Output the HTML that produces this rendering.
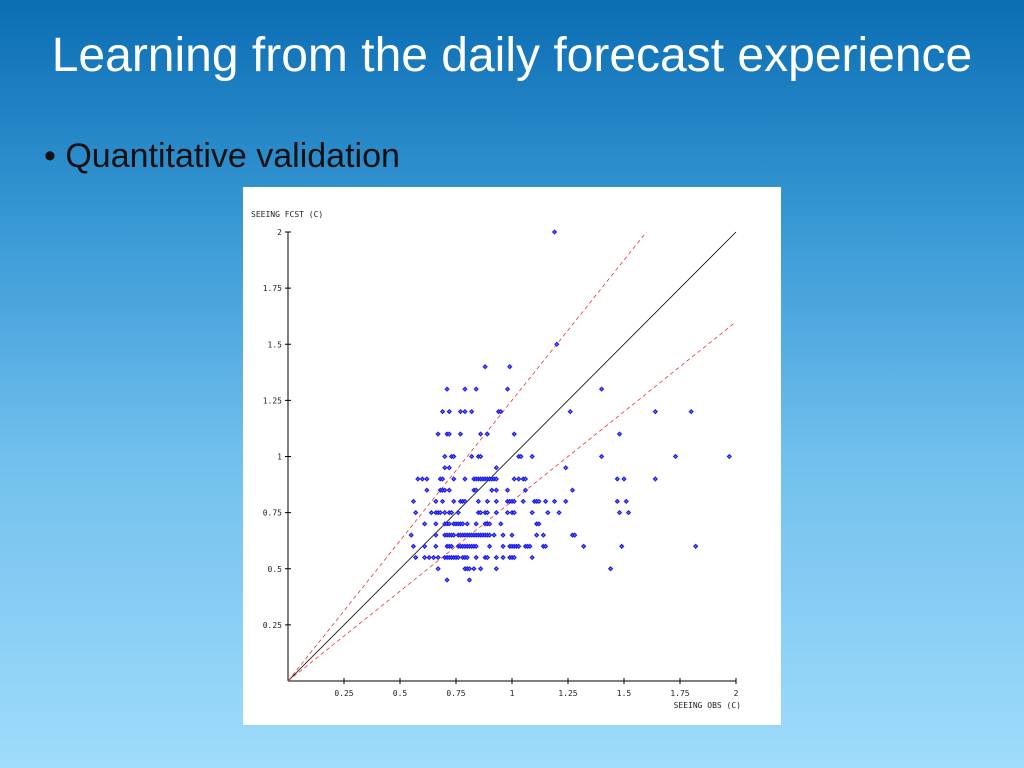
<!DOCTYPE html>
<html><head><meta charset="utf-8">
<style>
html,body{margin:0;padding:0;width:1024px;height:768px;overflow:hidden}
body{background:linear-gradient(#0b6db3 0%,#3a9ad6 30%,#72c0ee 60%,#9fdcfb 100%);font-family:"Liberation Sans",sans-serif;position:relative}
#title{position:absolute;top:28px;left:0;width:1024px;text-align:center;color:#fff;font-size:48px;line-height:56px}
#bullet{position:absolute;top:136px;left:44px;color:#111;font-size:34px;line-height:40px}
#chart{position:absolute;left:243px;top:187px;width:538px;height:538px;background:#fff}
svg text{font-family:"DejaVu Sans Mono","Liberation Mono",monospace;font-size:8px;fill:#222}
</style></head><body>
<div id="title">Learning from the daily forecast experience</div>
<div id="bullet">• Quantitative validation</div>
<div id="chart">
<svg id="svg" width="538" height="538"></svg>
</div>
<script>
const xTicks=[0.25,0.5,0.75,1,1.25,1.5,1.75,2];
const yTicks=[0.25,0.5,0.75,1,1.25,1.5,1.75,2];
const xTickLabels=["0.25","0.5","0.75","1","1.25","1.5","1.75","2"];
const yTickLabels=["0.25","0.5","0.75","1","1.25","1.5","1.75","2"];
const fcstLevels=[2.0,1.5,1.4,1.3,1.2,1.1,1.0,0.95,0.9,0.85,0.8,0.75,0.7,0.65,0.6,0.55,0.5,0.45];
const obsAt200=[1.19];
const obsAt150=[1.20];
const obsAt140=[0.88,0.99];
const obsAt130=[0.71,0.79,0.84,0.98,1.40];
const obsAt120=[0.69,0.72,0.77,0.79,0.82,0.94,0.95,1.26,1.64,1.80];
const obsAt110=[0.67,0.71,0.72,0.77,0.86,0.89,1.01,1.48];
const obsAt100=[0.70,0.73,0.74,0.82,0.85,0.86,1.03,1.04,1.09,1.40,1.73,1.97];
const obsAt095=[0.70,0.72,0.93,1.24];
const obsAt090=[0.58,0.60,0.62,0.68,0.69,0.74,0.79,0.83,0.84,0.85,0.86,0.87,0.88,0.89,0.90,0.91,0.92,0.93,1.01,1.03,1.05,1.06,1.47,1.50,1.64];
const obsAt085=[0.62,0.68,0.69,0.70,0.72,0.83,0.84,0.91,0.93,0.98,1.06,1.27];
const obsAt080=[0.56,0.66,0.69,0.74,0.77,0.78,0.79,0.85,0.89,0.93,0.98,0.99,1.0,1.01,1.05,1.10,1.11,1.12,1.15,1.19,1.24,1.47,1.51];
const obsAt075=[0.57,0.64,0.66,0.67,0.68,0.70,0.72,0.73,0.76,0.85,0.86,0.88,0.89,0.93,0.98,1.0,1.01,1.09,1.16,1.21,1.48,1.52];
const obsAt070=[0.61,0.66,0.70,0.71,0.72,0.74,0.75,0.76,0.77,0.78,0.80,0.84,0.88,0.89,0.90,0.95,1.11,1.12];
const obsAt065=[0.55,0.66,0.70,0.71,0.72,0.73,0.74,0.76,0.77,0.78,0.79,0.80,0.81,0.82,0.83,0.84,0.85,0.86,0.87,0.88,0.89,0.90,0.92,0.96,1.0,1.11,1.14,1.27,1.28];
const obsAt060=[0.56,0.61,0.66,0.71,0.72,0.73,0.76,0.77,0.78,0.79,0.80,0.81,0.82,0.83,0.84,0.90,0.96,0.99,1.0,1.01,1.02,1.03,1.06,1.07,1.08,1.14,1.15,1.32,1.49,1.82];
const obsAt055=[0.57,0.61,0.63,0.65,0.67,0.70,0.71,0.72,0.73,0.74,0.75,0.76,0.78,0.79,0.80,0.84,0.88,0.89,0.93,0.96,0.99,1.0,1.01,1.09];
const obsAt050=[0.67,0.79,0.80,0.81,0.83,0.86,0.93,1.44];
const obsAt045=[0.71,0.81];
const obsRows=[obsAt200,obsAt150,obsAt140,obsAt130,obsAt120,obsAt110,obsAt100,obsAt095,obsAt090,obsAt085,obsAt080,obsAt075,obsAt070,obsAt065,obsAt060,obsAt055,obsAt050,obsAt045];
const upperSlope=1.25, lowerSlope=0.8;

const NS="http://www.w3.org/2000/svg";
const svg=document.getElementById('svg');
const X0=45,Y0=494,SX=224,SY=224.5;
const xs=v=>X0+v*SX, ys=v=>Y0-v*SY;
function mk(tag,attrs,parent){const e=document.createElementNS(NS,tag);for(const k in attrs)e.setAttribute(k,attrs[k]);(parent||svg).appendChild(e);return e;}

let e;
e=mk('line',{x1:X0,y1:ys(2),x2:X0,y2:Y0,stroke:'#000','stroke-width':1});


e=mk('line',{x1:X0,y1:Y0,x2:xs(2),y2:Y0,stroke:'#000','stroke-width':1});


xTicks.forEach((t,i)=>{
  mk('line',{x1:xs(t),y1:Y0-3,x2:xs(t),y2:Y0+3,stroke:'#000'});
  e=mk('text',{x:xs(t),y:Y0+15,'text-anchor':'middle'});e.textContent=xTickLabels[i];
  
  
});
yTicks.forEach((t,i)=>{
  mk('line',{x1:X0-3,y1:ys(t),x2:X0+3,y2:ys(t),stroke:'#000'});
  e=mk('text',{x:X0-6,y:ys(t)+3,'text-anchor':'end'});e.textContent=yTickLabels[i];
  
  
});
e=mk('text',{x:8,y:30});e.textContent='SEEING FCST (C)';


e=mk('text',{x:xs(2)+5,y:Y0+27,'text-anchor':'end'});e.textContent='SEEING OBS (C)';



e=mk('line',{x1:xs(0),y1:ys(0),x2:xs(2),y2:ys(2),stroke:'#000','stroke-width':0.8});


e=mk('line',{x1:xs(0),y1:ys(0),x2:xs(2/upperSlope),y2:ys(2),stroke:'#e33','stroke-width':0.8,'stroke-dasharray':'4,3'});


e=mk('line',{x1:xs(0),y1:ys(0),x2:xs(2),y2:ys(2*lowerSlope),stroke:'#e33','stroke-width':0.8,'stroke-dasharray':'4,3'});



fcstLevels.forEach((f,i)=>{
  obsRows[i].forEach(o=>{
    const cx=xs(o),cy=ys(f);
    e=mk('polygon',{points:`${cx},${cy-1.8} ${cx+1.8},${cy} ${cx},${cy+1.8} ${cx-1.8},${cy}`,fill:'#8888ff',stroke:'#1a1aee','stroke-width':1.2});
    
    
  });
});
</script>
</body></html>
